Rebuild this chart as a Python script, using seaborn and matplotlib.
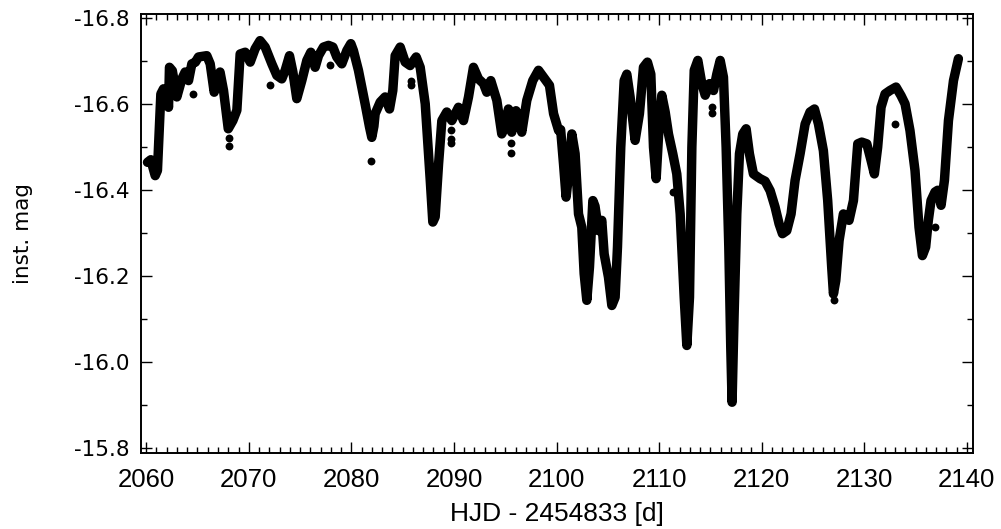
import numpy as np
import pandas as pd
import seaborn as sns
from matplotlib import pyplot as plt
from matplotlib.ticker import MultipleLocator

# light curve, day offsets and instrumental magnitudes
HJD = [
    2060.13, 2060.45, 2060.88, 2061.10, 2061.43, 2061.69, 2061.95, 2062.18, 2062.27, 2062.55,
    2062.99, 2063.48, 2063.80, 2064.13, 2064.45, 2064.80, 2065.10, 2065.91, 2066.24, 2066.63,
    2066.95, 2067.20, 2067.54, 2068.00, 2068.45, 2068.84, 2069.16, 2069.65, 2070.14, 2070.62,
    2071.10, 2071.60, 2072.25, 2072.74, 2073.22, 2073.55, 2073.97, 2074.30, 2074.68, 2075.17,
    2075.66, 2076.05, 2076.47, 2076.80, 2077.28, 2077.77, 2078.20, 2078.58, 2079.07, 2079.56,
    2079.95, 2080.20, 2080.69, 2081.34, 2081.77, 2081.99, 2082.20, 2082.32, 2082.81, 2083.29,
    2083.72, 2084.04, 2084.27, 2084.76, 2085.25, 2085.73, 2086.32, 2086.71, 2087.20, 2087.69,
    2087.94, 2088.17, 2088.50, 2088.82, 2089.30, 2089.79, 2090.44, 2090.93, 2091.42, 2091.90,
    2092.39, 2092.88, 2093.20, 2093.59, 2094.18, 2094.66, 2094.95, 2095.31, 2095.63, 2096.05,
    2096.61, 2097.10, 2097.68, 2098.24, 2098.73, 2099.31, 2099.71, 2100.20, 2100.40, 2100.68,
    2100.93, 2101.15, 2101.49, 2101.81, 2102.14, 2102.46, 2102.69, 2102.95, 2103.21, 2103.54,
    2103.75, 2104.09, 2104.41, 2104.64, 2105.06, 2105.39, 2105.71, 2105.94, 2106.26, 2106.59,
    2106.85, 2107.17, 2107.66, 2108.08, 2108.47, 2108.86, 2109.19, 2109.45, 2109.71, 2109.97,
    2110.26, 2110.59, 2110.91, 2111.33, 2111.72, 2112.05, 2112.44, 2112.70, 2112.96, 2113.19,
    2113.42, 2113.77, 2114.16, 2114.49, 2114.91, 2115.30, 2115.62, 2115.95, 2116.27, 2116.53,
    2116.79, 2116.98, 2117.11, 2117.31, 2117.57, 2117.83, 2118.15, 2118.48, 2118.80, 2119.19,
    2119.84, 2120.33, 2120.82, 2121.30, 2121.69, 2122.02, 2122.44, 2122.86, 2123.25, 2123.74,
    2124.23, 2124.71, 2125.14, 2125.53, 2126.01, 2126.43, 2126.82, 2126.99, 2127.22, 2127.54,
    2127.96, 2128.51, 2128.94, 2129.36, 2129.75, 2130.24, 2130.66, 2130.98, 2131.30, 2131.63,
    2132.02, 2132.50, 2133.09, 2133.58, 2133.97, 2134.45, 2134.94, 2135.33, 2135.66, 2135.98,
    2136.24, 2136.50, 2136.89, 2137.15, 2137.48, 2137.81, 2138.20, 2138.69, 2139.17,
]
MAG = [
    -16.464, -16.470, -16.433, -16.445, -16.623, -16.635, -16.623, -16.592, -16.685, -16.677,
    -16.616, -16.658, -16.674, -16.654, -16.693, -16.697, -16.709, -16.712, -16.693, -16.627,
    -16.654, -16.674, -16.631, -16.542, -16.561, -16.585, -16.716, -16.720, -16.697, -16.728,
    -16.747, -16.732, -16.693, -16.666, -16.658, -16.678, -16.712, -16.674, -16.612, -16.654,
    -16.701, -16.720, -16.685, -16.712, -16.732, -16.736, -16.732, -16.709, -16.693, -16.724,
    -16.740, -16.724, -16.678, -16.600, -16.546, -16.522, -16.548, -16.577, -16.604, -16.616,
    -16.588, -16.631, -16.712, -16.732, -16.697, -16.689, -16.709, -16.685, -16.600, -16.422,
    -16.325, -16.337, -16.460, -16.561, -16.581, -16.561, -16.592, -16.561, -16.616, -16.685,
    -16.658, -16.647, -16.627, -16.654, -16.608, -16.530, -16.545, -16.588, -16.534, -16.584,
    -16.534, -16.608, -16.654, -16.678, -16.662, -16.643, -16.577, -16.538, -16.540, -16.460,
    -16.383, -16.430, -16.530, -16.484, -16.344, -16.313, -16.205, -16.143, -16.220, -16.375,
    -16.362, -16.305, -16.329, -16.251, -16.197, -16.131, -16.150, -16.267, -16.499, -16.654,
    -16.669, -16.616, -16.515, -16.577, -16.685, -16.697, -16.669, -16.499, -16.426, -16.537,
    -16.620, -16.581, -16.530, -16.484, -16.437, -16.344, -16.150, -16.038, -16.150, -16.499,
    -16.678, -16.701, -16.647, -16.620, -16.647, -16.631, -16.669, -16.701, -16.662, -16.499,
    -16.267, -16.034, -15.906, -16.111, -16.344, -16.484, -16.530, -16.542, -16.484, -16.437,
    -16.426, -16.420, -16.398, -16.360, -16.321, -16.298, -16.305, -16.344, -16.422, -16.484,
    -16.553, -16.581, -16.588, -16.553, -16.491, -16.375, -16.220, -16.158, -16.189, -16.282,
    -16.344, -16.329, -16.375, -16.507, -16.511, -16.507, -16.468, -16.437, -16.499, -16.592,
    -16.623, -16.631, -16.639, -16.619, -16.600, -16.538, -16.445, -16.313, -16.247, -16.267,
    -16.329, -16.375, -16.395, -16.399, -16.364, -16.422, -16.561, -16.654, -16.705,
]

# isolated points sitting off the main curve
OUT_HJD = [2064.55, 2068.12, 2068.12, 2072.09, 2077.93, 2081.90, 2085.80, 2085.80, 2089.70, 2089.70,
           2089.70, 2095.60, 2095.60, 2111.40, 2115.20, 2115.20, 2127.00, 2133.00, 2136.90]
OUT_MAG = [-16.622, -16.521, -16.501, -16.643, -16.691, -16.466, -16.654, -16.643, -16.538, -16.519,
           -16.509, -16.509, -16.485, -16.395, -16.592, -16.578, -16.143, -16.553, -16.313]

X_TICKS = [2060, 2070, 2080, 2090, 2100, 2110, 2120, 2130, 2140]
Y_TICKS = [-16.8, -16.6, -16.4, -16.2, -16.0, -15.8]

X_FONT = ['Liberation Sans', 'DejaVu Sans']


def draw_light_curve(ax):
    df = pd.DataFrame({'hjd': HJD, 'mag': MAG})
    sns.lineplot(data=df, x='hjd', y='mag', sort=False, color='black', lw=6.8,
                 solid_capstyle='round', solid_joinstyle='round', ax=ax)
    sns.scatterplot(x=OUT_HJD, y=OUT_MAG, color='black', s=32, linewidth=0, ax=ax)


def style_axes(ax):
    ax.set_xlim(2059.5, 2140.6)
    ax.set_ylim(-15.788, -16.809)

    ax.set_xticks(X_TICKS)
    ax.set_yticks(Y_TICKS)
    ax.set_yticklabels(['{:.1f}'.format(v) for v in Y_TICKS])
    ax.xaxis.set_minor_locator(MultipleLocator(1))
    ax.yaxis.set_minor_locator(MultipleLocator(0.1))

    ax.tick_params(which='both', direction='in', top=True, right=True, color='black',
                   labelcolor='black')
    ax.tick_params(which='major', length=8, width=1.0)
    ax.tick_params(which='minor', length=4, width=1.0)
    ax.tick_params(axis='y', labelsize=15.5, pad=8)
    ax.tick_params(axis='x', labelsize=18.5, pad=11)
    for label in ax.get_xticklabels():
        label.set_family(X_FONT)

    for spine in ax.spines.values():
        spine.set_linewidth(1.4)
        spine.set_color('black')

    ax.set_xlabel('HJD - 2454833 [d]', fontsize=19, family=X_FONT, color='black', labelpad=7)
    ax.set_ylabel('inst. mag', fontsize=15.5, color='black', labelpad=30)


def main():
    sns.set_style('ticks')
    plt.rcParams['font.family'] = ['DejaVu Sans']

    fig = plt.figure(figsize=(10.01, 5.29), dpi=100)
    ax = fig.add_axes([0.1409, 0.1437, 0.8312, 0.8299])

    draw_light_curve(ax)
    style_axes(ax)

    fig.savefig('out.png', dpi=100)


if __name__ == '__main__':
    main()
